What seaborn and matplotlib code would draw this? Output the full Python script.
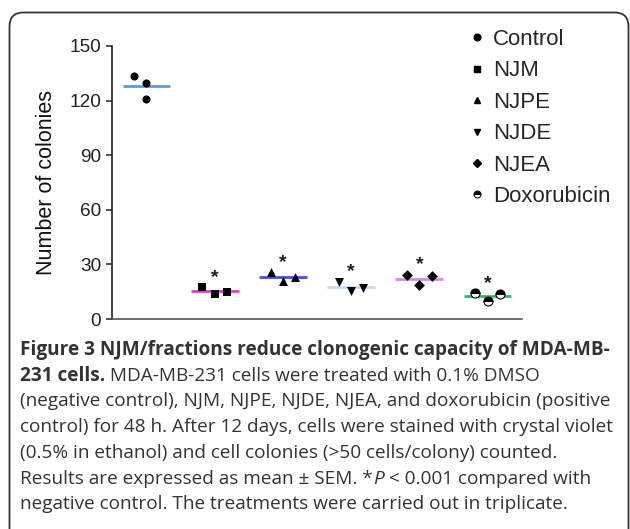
import numpy as np
import pandas as pd
import matplotlib
matplotlib.use("Agg")
import matplotlib.pyplot as plt
import seaborn as sns
from matplotlib.lines import Line2D
from matplotlib.patches import FancyBboxPatch
from matplotlib.transforms import IdentityTransform

# -------------------------------
# Data (colonies per replicate)
# -------------------------------
groups = ["Control", "NJM", "NJPE", "NJDE", "NJEA", "Doxorubicin"]
control = [133.7, 129.8, 120.7]
njm = [17.4, 13.6, 14.7]
njpe = [25.6, 21.0, 23.3]
njde = [20.3, 15.5, 17.2]
njea = [24.4, 18.7, 23.6]
doxorubicin = [14.1, 10.1, 13.6]
# horizontal spread slot of each replicate (-1 left, 0 centre, 1 right)
spread = {"Control": [-1, 0, 0], "NJM": [-1, 0, 1], "NJPE": [-1, 0, 1],
          "NJDE": [-1, 0, 1], "NJEA": [-1, 0, 1], "Doxorubicin": [-1, 0, 1]}
significant = [False, True, True, True, True, True]

markers = {"Control": "o", "NJM": "s", "NJPE": "^", "NJDE": "v",
           "NJEA": "D", "Doxorubicin": "o"}
sizes = {"Control": 34, "NJM": 34, "NJPE": 42, "NJDE": 42, "NJEA": 30}
line_colors = ["#5a9be6", "#e23fc6", "#4b4be3", "#c3daf3", "#d68ae8", "#2dba78"]

values = [control, njm, njpe, njde, njea, doxorubicin]
rows = []
for g, vals in zip(groups, values):
    for k, v in enumerate(vals):
        rows.append({"group": g, "value": v, "slot": spread[g][k]})
df = pd.DataFrame(rows)
df["pos"] = df["group"].map({g: i for i, g in enumerate(groups)})
df["x"] = df["pos"] + df["slot"] * 0.18

# -------------------------------
# Figure
# -------------------------------
W, H = 630, 529
sns.set_style("white")
plt.rcParams["font.family"] = ["Liberation Sans", "DejaVu Sans"]
fig = plt.figure(figsize=(W / 100, H / 100), dpi=100)
ax = fig.add_axes([112.3 / W, 1 - 319 / H, 409.4 / W, 273 / H])

# mean lines
means = df.groupby("pos")["value"].mean()
ax.hlines(means.values, means.index - 0.35, means.index + 0.35,
          colors=line_colors, lw=2, zorder=2)

for g in groups[:-1]:
    sns.scatterplot(data=df[df["group"] == g], x="x", y="value",
                    marker=markers[g], s=sizes[g], color="black",
                    edgecolor="black", linewidth=0, ax=ax, zorder=3, legend=False)
dox = df[df["group"] == "Doxorubicin"]
ax.plot(dox["x"], dox["value"], linestyle="none", marker="o", markersize=6.5,
        fillstyle="top", color="black", markerfacecoloralt="white",
        markeredgewidth=0.8, zorder=3)

# significance stars
maxes = df.groupby("pos")["value"].max()
for i, sig in enumerate(significant):
    if sig:
        ax.text(i, maxes[i] + 5.5, "*", ha="center", va="center",
                fontsize=14, fontweight="bold", color="#1c1c2c")

ax.set_xlim(-0.5, 5.5)
ax.set_ylim(0, 150)
ax.set_yticks([0, 30, 60, 90, 120, 150])
ax.set_xticks([])
ax.set_xlabel("")
ax.set_ylabel("Number of colonies", fontsize=15.5, color="#111111")
ax.yaxis.set_label_coords(-0.135, 0.5)
ax.tick_params(axis="y", direction="out", length=4.5, width=1.1,
               pad=3.5, labelsize=13.7, colors="#222222", left=True)
for side in ["top", "right"]:
    ax.spines[side].set_visible(False)
ax.spines["left"].set_color("#222222")
ax.spines["left"].set_linewidth(1.2)
ax.spines["bottom"].set_color("#555555")
ax.spines["bottom"].set_linewidth(1.2)
ax.patch.set_alpha(0)

# legend
handles = []
for g in groups:
    if g == "Doxorubicin":
        h = Line2D([], [], linestyle="none", marker="o", markersize=5,
                   fillstyle="top", color="black", markerfacecoloralt="white",
                   markeredgewidth=0.7)
    else:
        h = Line2D([], [], linestyle="none", marker=markers[g],
                   markersize=4.8 if g != "NJEA" else 4.2, color="black")
    handles.append(h)
fig.legend(handles, groups, loc="upper left",
           bbox_to_anchor=(470 / W, 1 - 29 / H), frameon=False,
           fontsize=16, handlelength=0.6, handletextpad=0.42,
           labelspacing=0.47, borderpad=0, borderaxespad=0)

# outer rounded frame
frame = FancyBboxPatch((9.5, -40), 619, H - 12.5 + 40,
                       boxstyle="round,pad=0,rounding_size=14",
                       transform=IdentityTransform(), fill=False,
                       edgecolor="#333333", lw=1.3)
fig.add_artist(frame)

# -------------------------------
# Caption
# -------------------------------
cap_font = ["Open Sans", "DejaVu Sans"]
cap_size = 13.65
cap_color = "#333333"
renderer = fig.canvas.get_renderer()


def draw_runs(x, y, runs):
    for txt, weight, style in runs:
        t = fig.text(x, H - y, txt, transform=IdentityTransform(),
                     family=cap_font, fontsize=cap_size, fontweight=weight,
                     fontstyle=style, color=cap_color, va="baseline", ha="left")
        x = t.get_window_extent(renderer).x1


caption = [
    [("Figure 3 NJM/fractions reduce clonogenic capacity of MDA-MB-", "bold", "normal")],
    [("231 cells.", "bold", "normal"),
     (" MDA-MB-231 cells were treated with 0.1% DMSO", "normal", "normal")],
    [("(negative control), NJM, NJPE, NJDE, NJEA, and doxorubicin (positive", "normal", "normal")],
    [("control) for 48 h. After 12 days, cells were stained with crystal violet", "normal", "normal")],
    [("(0.5% in ethanol) and cell colonies (>50 cells/colony) counted.", "normal", "normal")],
    [("Results are expressed as mean \u00b1 SEM. *", "normal", "normal"),
     ("P", "normal", "italic"),
     (" < 0.001 compared with", "normal", "normal")],
    [("negative control. The treatments were carried out in triplicate.", "normal", "normal")],
]
for k, runs in enumerate(caption):
    draw_runs(20, 355 + k * 25.7, runs)

fig.savefig("out.png", dpi=100)
plt.close(fig)
